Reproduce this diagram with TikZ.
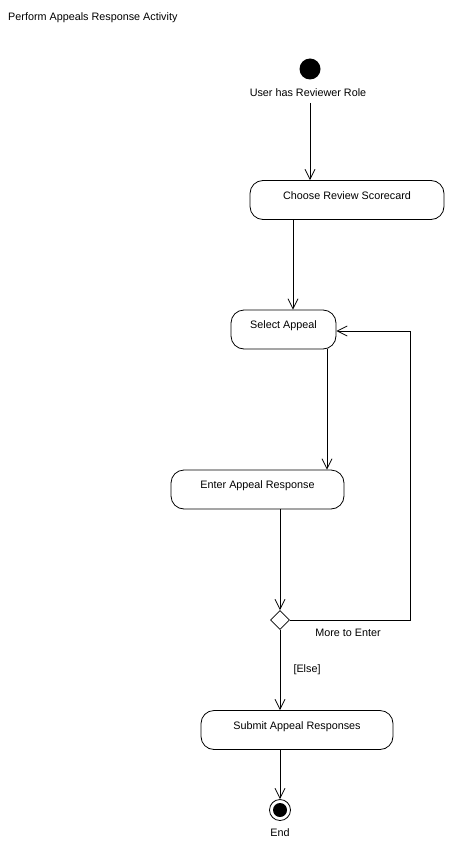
\documentclass[tikz,border=0pt]{standalone}
\usepackage{fontspec}
\setmainfont{Liberation Sans}
\usetikzlibrary{shapes.geometric,arrows.meta}
\tikzset{
  arr/.style={line width=0.8pt,-{Straight Barb[length=10pt,width=10pt,line width=0.8pt]}},
  lbl/.style={font=\fontsize{10.8}{12}\selectfont, inner sep=0pt},
  actbox/.style={draw, line width=0.8pt, rounded corners=13pt, minimum height=39pt, inner sep=0pt, text height=7.5pt, text depth=9pt, font=\fontsize{10.8}{12}\selectfont},
  decision/.style={draw, line width=0.8pt, diamond, minimum width=19pt, minimum height=19pt, inner sep=0pt, aspect=1},
}
\begin{document}
\begin{tikzpicture}[x=1pt,y=-1pt]
\useasboundingbox (0,0) rectangle (456,850);
\fill[white] (0,0) rectangle (456,850);
\node[lbl, anchor=west] (title) at (8,18) {Perform Appeals Response Activity};
\node[circle, fill=black, minimum size=21pt, inner sep=0pt] (start) at (310,69) {};
\node[lbl] (startlbl) at (308,93) {User has Reviewer Role};
\node[actbox, minimum width=194pt] (choose) at (347,200) {Choose Review Scorecard};
\node[actbox, minimum width=105pt] (sel) at (283.5,329.5) {Select Appeal};
\node[actbox, minimum width=173pt] (enter) at (257.5,489.5) {Enter Appeal Response};
\node[decision] (dec) at (280,620) {};
\node[lbl] (more) at (348,633) {More to Enter};
\node[lbl] (else) at (307,670) {[Else]};
\node[actbox, minimum width=192pt] (submit) at (297,730) {Submit Appeal Responses};
\node[circle, draw, line width=0.8pt, minimum size=21pt, inner sep=0pt] (endn) at (280,810) {};
\fill (endn.center) circle (7pt);
\node[lbl] (endlbl) at (280,833) {End};
\coordinate (loopc) at (410,331);
\draw[arr] (start |- 0,103) -- (start |- choose.north);
\draw[arr] ([xshift=-54pt]choose.south) -- ([xshift=-54pt]choose.south |- sel.north);
\draw[arr] ([xshift=43.5pt]sel.south) -- ([xshift=43.5pt]sel.south |- enter.north);
\draw[arr] (enter.south -| dec) -- (dec.north);
\draw[arr] (dec.east) -| (loopc) -- (loopc -| sel.east);
\draw[arr] (dec.south) -- (dec |- submit.north);
\draw[arr] (submit.south -| endn) -- (endn.north);
\end{tikzpicture}
\end{document}
